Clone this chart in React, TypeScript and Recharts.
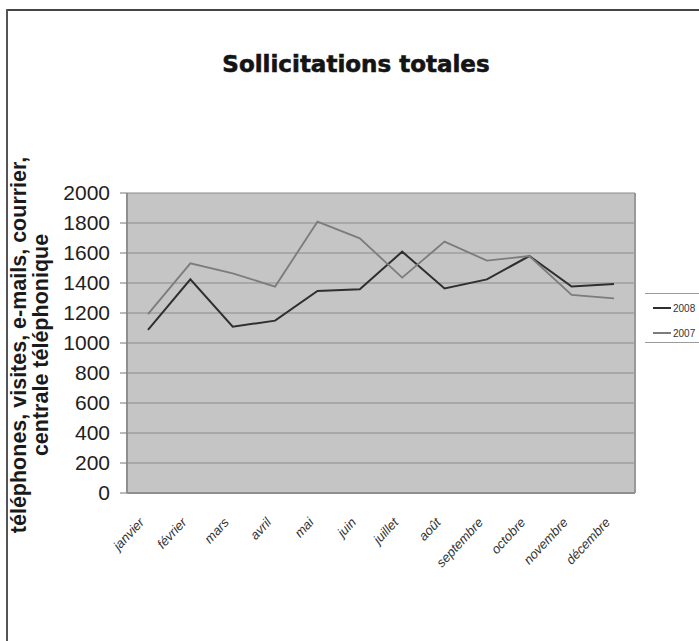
import { LineChart, Line, XAxis, YAxis, CartesianGrid, Legend } from 'recharts';

const months = [
  'janvier', 'février', 'mars', 'avril', 'mai', 'juin',
  'juillet', 'août', 'septembre', 'octobre', 'novembre', 'décembre',
];
const values2008 = [1087, 1424, 1109, 1149, 1347, 1358, 1609, 1364, 1424, 1580, 1376, 1393];
const values2007 = [1193, 1531, 1464, 1376, 1809, 1698, 1436, 1676, 1549, 1580, 1320, 1298];
const yTicks = [0, 200, 400, 600, 800, 1000, 1200, 1400, 1600, 1800, 2000];
const legendOrder = ['2008', '2007'];

const data = months.map((m, i) => ({ month: m, y2008: values2008[i], y2007: values2007[i] }));

const W = 699;
const H = 641;

function MonthTick({ x, y, payload }: any) {
  return (
    <text
      transform={`translate(${x - 3},${y + 22}) rotate(-47)`}
      textAnchor="end"
      fontFamily="'Liberation Sans', Arial, sans-serif"
      fontStyle="italic"
      fontSize={13}
      fill="#333"
    >
      {payload.value}
    </text>
  );
}

function YTitle() {
  const font = "'Liberation Sans', Arial, sans-serif";
  return (
    <g>
      <text
        transform="translate(26,345) rotate(-90)"
        textAnchor="middle"
        fontFamily={font}
        fontWeight="bold"
        fontSize={21.5}
        fill="#1a1a1a"
      >
        téléphones, visites, e-mails, courrier,
      </text>
      <text
        transform="translate(48,345) rotate(-90)"
        textAnchor="middle"
        fontFamily={font}
        fontWeight="bold"
        fontSize={21.5}
        fill="#1a1a1a"
      >
        centrale téléphonique
      </text>
    </g>
  );
}

function LegendBox({ payload }: any) {
  const items = [...(payload || [])].sort(
    (a: any, b: any) => legendOrder.indexOf(a.value) - legendOrder.indexOf(b.value)
  );
  return (
    <div
      style={{
        width: 60,
        height: 50,
        borderTop: '1px solid #9a9a9a',
        borderBottom: '1px solid #9a9a9a',
        fontFamily: "'Liberation Sans', Arial, sans-serif",
        fontSize: 10,
        color: '#333',
        paddingTop: 5,
        boxSizing: 'border-box',
      }}
    >
      {items.map((p: any) => (
        <div key={p.value} style={{ display: 'flex', alignItems: 'center', height: 18, marginBottom: 7 }}>
          <span style={{ display: 'inline-block', width: 18, height: 2, background: p.color, marginLeft: 8, marginRight: 2 }} />
          <span>{p.value}</span>
        </div>
      ))}
    </div>
  );
}

export default function App() {
  return (
    <div style={{ position: 'absolute', left: 0, top: 0, width: W, height: H, background: '#fff', overflow: 'hidden' }}>
      <div style={{ position: 'absolute', left: 7, top: 9, width: W - 7, height: 2, background: '#444' }} />
      <div style={{ position: 'absolute', left: 6, top: 9, width: 2, height: H - 9, background: '#555' }} />
      <div
        style={{
          position: 'absolute',
          left: 0,
          width: 712,
          top: 50,
          textAlign: 'center',
          fontFamily: "'DejaVu Sans', sans-serif",
          fontWeight: 'bold',
          fontSize: 23,
          color: '#141414',
          lineHeight: '28px',
          WebkitTextStroke: '0.6px #141414',
        }}
      >
        Sollicitations totales
      </div>
      <LineChart
        width={W}
        height={H}
        data={data}
        margin={{ top: 193, right: 3, bottom: 88, left: 0 }}
        style={{ position: 'absolute', left: 0, top: 0 }}
      >
        <CartesianGrid vertical={false} stroke="#8c8c8c" fill="#c5c5c5" strokeWidth={1.2} />
        <XAxis
          dataKey="month"
          interval={0}
          tickLine={false}
          padding={{ left: 21, right: 21 }}
          axisLine={{ stroke: '#8f8f8f', strokeWidth: 2 }}
          height={60}
          tick={<MonthTick />}
        />
        <YAxis
          domain={[0, 2000]}
          ticks={yTicks}
          interval={0}
          width={127}
          tickSize={7}
          tickMargin={10}
          axisLine={{ stroke: '#8f8f8f', strokeWidth: 2 }}
          tickLine={{ stroke: '#777' }}
          tick={{ fill: '#1e1e1e', fontSize: 21, fontFamily: "'Liberation Sans', Arial, sans-serif" }}
          label={{ content: <YTitle /> }}
        />
        <YAxis
          yAxisId="right"
          orientation="right"
          domain={[0, 2000]}
          width={1}
          tick={false}
          tickLine={false}
          axisLine={{ stroke: '#999', strokeWidth: 2 }}
        />
        <Legend
          layout="vertical"
          align="right"
          verticalAlign="top"
          content={<LegendBox />}
          wrapperStyle={{ position: 'absolute', left: 645, top: 293, width: 60 }}
        />
        <Line
          type="linear"
          dataKey="y2008"
          name="2008"
          stroke="#2f2f2f"
          strokeWidth={2}
          dot={false}
          isAnimationActive={false}
        />
        <Line
          type="linear"
          dataKey="y2007"
          name="2007"
          stroke="#7c7c7c"
          strokeWidth={1.8}
          dot={false}
          isAnimationActive={false}
        />
      </LineChart>
    </div>
  );
}
